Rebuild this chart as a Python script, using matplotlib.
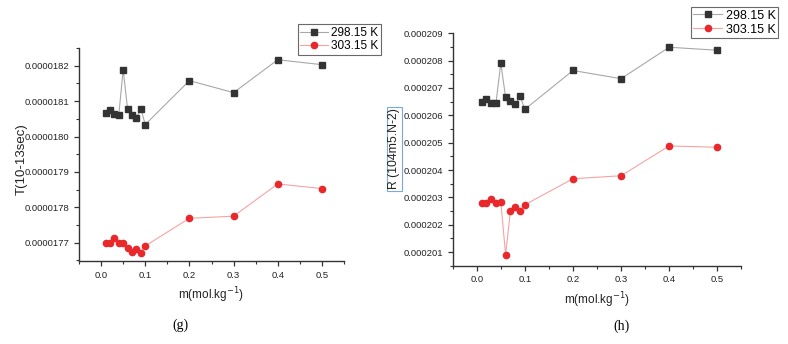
import matplotlib
matplotlib.use("Agg")
import matplotlib.pyplot as plt
from matplotlib.ticker import MultipleLocator, FormatStrFormatter

plt.rcParams['font.family'] = ['Liberation Sans', 'DejaVu Sans']

m = [0.01, 0.02, 0.03, 0.04, 0.05, 0.06, 0.07, 0.08, 0.09, 0.1, 0.2, 0.3, 0.4, 0.5]
tau_298 = [1.8066e-5, 1.8074e-5, 1.8064e-5, 1.8060e-5, 1.8189e-5, 1.8077e-5, 1.8062e-5,
           1.8053e-5, 1.8078e-5, 1.8034e-5, 1.8158e-5, 1.8124e-5, 1.8217e-5, 1.8203e-5]
tau_303 = [1.7700e-5, 1.7700e-5, 1.7712e-5, 1.7700e-5, 1.7700e-5, 1.7684e-5, 1.7675e-5,
           1.7683e-5, 1.7672e-5, 1.7691e-5, 1.7769e-5, 1.7775e-5, 1.7866e-5, 1.7853e-5]
R_298 = [2.0647e-4, 2.0659e-4, 2.0645e-4, 2.0645e-4, 2.0791e-4, 2.0666e-4, 2.0651e-4,
         2.0640e-4, 2.0670e-4, 2.0622e-4, 2.0764e-4, 2.0734e-4, 2.0849e-4, 2.0838e-4]
R_303 = [2.0279e-4, 2.0279e-4, 2.0293e-4, 2.0278e-4, 2.0283e-4, 2.0090e-4, 2.0251e-4,
         2.0264e-4, 2.0251e-4, 2.0273e-4, 2.0368e-4, 2.0379e-4, 2.0488e-4, 2.0483e-4]
labels = ['298.15 K', '303.15 K']

W, H = 788, 344
fig = plt.figure(figsize=(W/100, H/100), dpi=100)

def ax_at(x0, y0, x1, y1):
    return fig.add_axes([x0/W, 1 - y1/H, (x1-x0)/W, (y1-y0)/H])

blk_m = '#333333'
blk_l = '#a8a8a8'
red_m = '#e8282b'
red_l = '#f5a3a3'

def style(ax):
    for s in ['top', 'right']:
        ax.spines[s].set_visible(False)
    for s in ['left', 'bottom']:
        ax.spines[s].set_color('#333333')
        ax.spines[s].set_linewidth(1.0)
    ax.tick_params(which='major', direction='out', length=3.5, width=0.9, colors='#333333',
                   labelsize=6.8, labelcolor='#222222')
    ax.tick_params(which='minor', direction='out', length=2, width=0.8, colors='#333333')
    ax.xaxis.set_major_locator(MultipleLocator(0.1))
    ax.xaxis.set_minor_locator(MultipleLocator(0.05))
    ax.xaxis.set_major_formatter(FormatStrFormatter('%.1f'))
    ax.set_xlim(-0.05, 0.55)
    ax.patch.set_alpha(0)

def plot_series(ax, y1, y2):
    ax.plot(m, y1, color=blk_l, lw=0.8, marker='s', ms=4.2, mfc=blk_m, mec=blk_m, label=labels[0])
    ax.plot(m, y2, color=red_l, lw=0.8, marker='o', ms=4.5, mfc=red_m, mec=red_m, label=labels[1])

# Left panel (g)
axg = ax_at(79, 47.7, 344, 261.3)
plot_series(axg, tau_298, tau_303)
style(axg)
axg.set_ylim(1.76475e-5, 1.8251e-5)
axg.yaxis.set_major_locator(MultipleLocator(1e-7))
axg.yaxis.set_minor_locator(MultipleLocator(5e-8))
axg.yaxis.set_major_formatter(FormatStrFormatter('%.7f'))
axg.set_xlabel('m(mol.kg$^{-1}$)', fontsize=8.5, labelpad=4, color='#222222')
fig.text(22/W, 1 - 159/H, 'Τ(10-13sec)', rotation=90, ha='center', va='center', fontsize=9.5, color='#222222')
leg = axg.legend(loc='upper left', bbox_to_anchor=((298-79)/265, 1 + (47.7-24.3)/213.6),
                 fontsize=8.5, frameon=True, fancybox=False, borderpad=0.2, handlelength=2.3,
                 handletextpad=0.3, labelspacing=0.15, borderaxespad=0)
leg.get_frame().set_edgecolor('#444444')
leg.get_frame().set_linewidth(0.8)

# Right panel (h)
axh = ax_at(452.7, 33.3, 741.3, 265.7)
plot_series(axh, R_298, R_303)
style(axh)
axh.set_ylim(2.005e-4, 2.090e-4)
axh.yaxis.set_major_locator(MultipleLocator(1e-6))
axh.yaxis.set_minor_locator(MultipleLocator(5e-7))
axh.yaxis.set_major_formatter(FormatStrFormatter('%.6f'))
axh.set_xlabel('m(mol.kg$^{-1}$)', fontsize=8.5, labelpad=4, color='#222222')
fig.text(394.5/W, 1 - 149/H, 'R (104m5.N-2)', rotation=90, ha='center', va='center', fontsize=8.8,
         color='#222222', bbox=dict(boxstyle='square,pad=0.1', fc='white', ec='#7da7e0', lw=0.8))
leg2 = axh.legend(loc='upper left', bbox_to_anchor=((690.7-452.7)/288.6, 1 + (33.3-7.3)/232.4),
                  fontsize=9, frameon=True, fancybox=False, borderpad=0.2, handlelength=2.3,
                  handletextpad=0.3, labelspacing=0.15, borderaxespad=0)
leg2.get_frame().set_edgecolor('#444444')
leg2.get_frame().set_linewidth(0.8)

# captions
fig.text(180/W, 1 - 325/H, '(g)', ha='center', va='center', fontsize=10, family='Liberation Serif')
fig.text(622/W, 1 - 326/H, '(h)', ha='center', va='center', fontsize=10, family='Liberation Serif')

fig.savefig('out.png', dpi=100)
